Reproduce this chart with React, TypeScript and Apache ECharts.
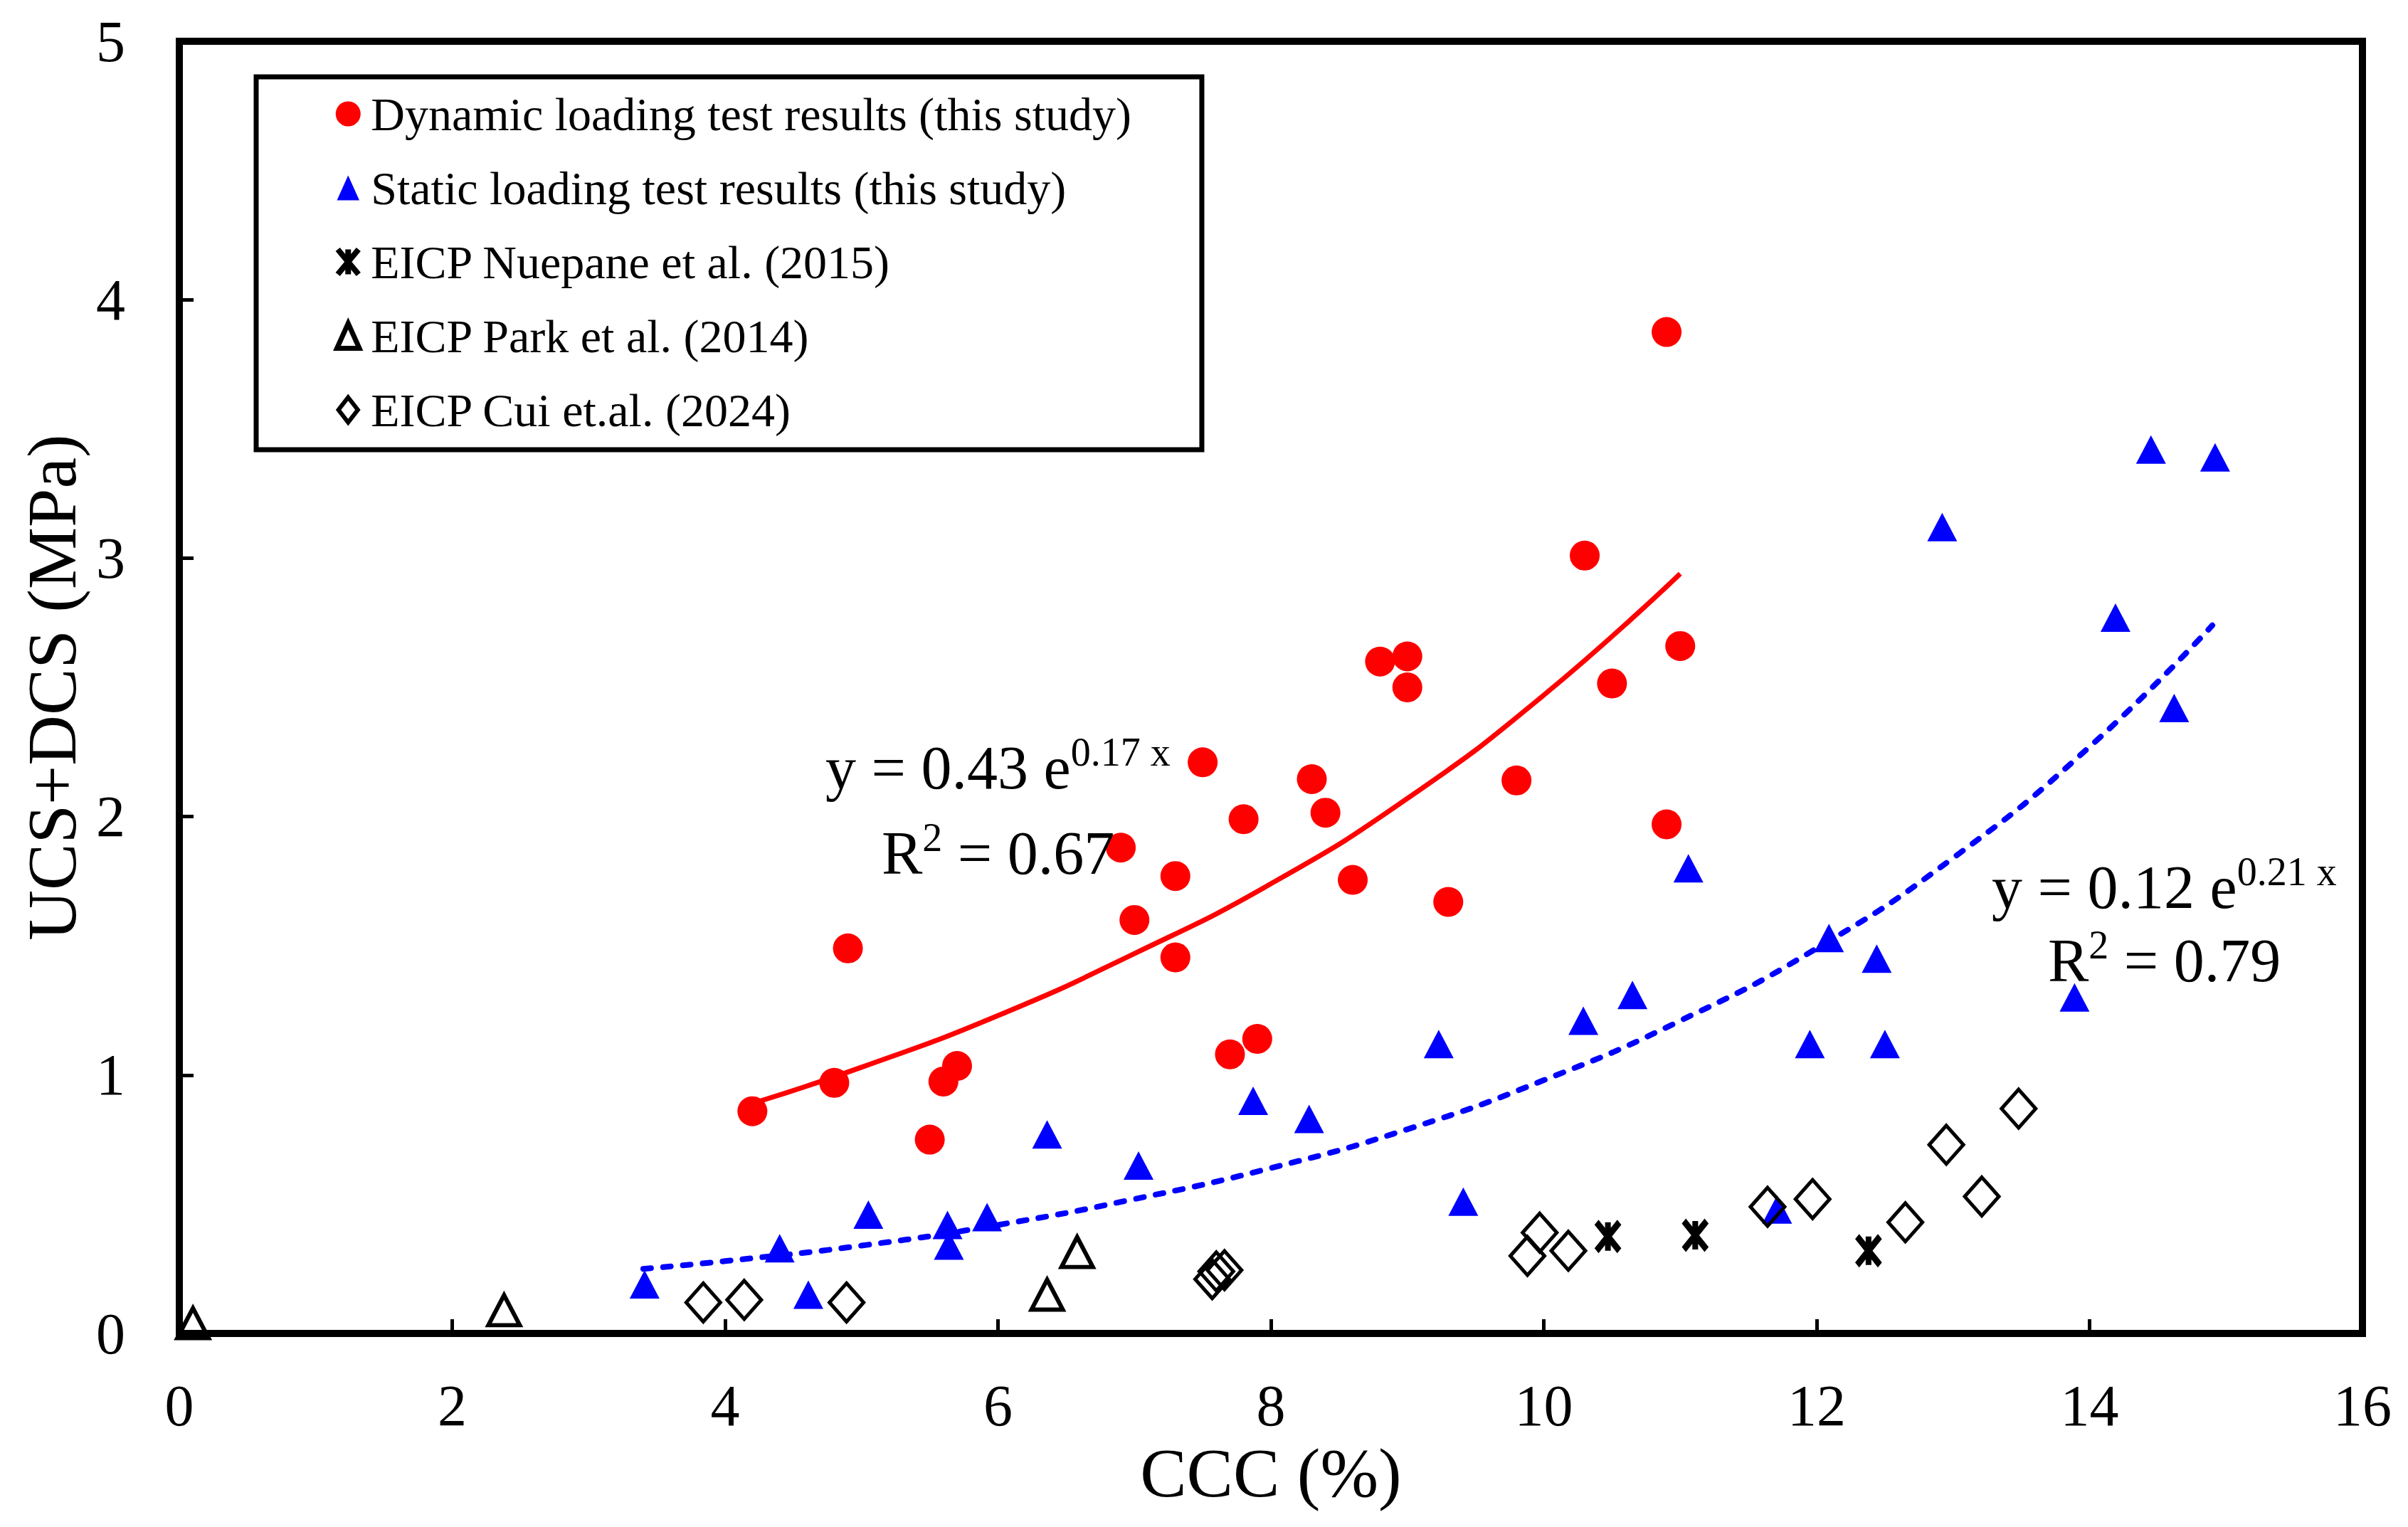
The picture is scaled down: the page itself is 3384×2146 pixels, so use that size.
import React, { useEffect, useRef } from "react";
import * as echarts from "echarts";

const FONT = "'Liberation Serif', 'Times New Roman', serif";

// Dynamic loading test results (this study)
const dynamicX = [4.2, 4.8, 4.9, 5.5, 5.6, 5.7, 6.9, 7.0, 7.3, 7.3, 7.5, 7.7, 7.8, 7.9, 8.3, 8.4, 8.6, 8.8, 9.0, 9.0, 9.3, 9.8, 10.3, 10.5, 10.9, 11.0, 10.9];
const dynamicY = [0.86, 0.97, 1.49, 0.75, 0.975, 1.035, 1.88, 1.6, 1.77, 1.455, 2.21, 1.08, 1.99, 1.14, 2.145, 2.015, 1.755, 2.6, 2.62, 2.5, 1.67, 2.14, 3.01, 2.515, 3.875, 2.66, 1.97];

// Static loading test results (this study)
const staticX = [3.41, 4.4, 4.61, 5.05, 5.63, 5.64, 5.92, 6.36, 7.03, 7.87, 8.28, 9.23, 9.41, 10.29, 10.65, 11.06, 11.71, 11.95, 12.09, 12.44, 12.5, 12.92, 13.89, 14.19, 14.45, 14.62, 14.92];
const staticY = [0.19, 0.33, 0.15, 0.46, 0.42, 0.34, 0.45, 0.77, 0.65, 0.9, 0.83, 1.12, 0.51, 1.21, 1.31, 1.8, 0.48, 1.12, 1.53, 1.45, 1.12, 3.12, 1.3, 2.77, 3.42, 2.42, 3.39];

// EICP Nuepane et al. (2015)
const nuepaneX = [10.47, 11.11, 12.38];
const nuepaneY = [0.375, 0.38, 0.32];

// EICP Park et al. (2014)
const parkX = [0.1, 2.38, 6.36, 6.58];
const parkY = [0.04, 0.09, 0.15, 0.315];

// EICP Cui et.al. (2024)
const cuiX = [3.84, 4.14, 4.89, 7.57, 7.6, 7.66, 9.88, 9.97, 10.18, 11.64, 11.97, 12.65, 12.95, 13.21, 13.48];
const cuiY = [0.12, 0.13, 0.12, 0.21, 0.24, 0.245, 0.3, 0.39, 0.32, 0.49, 0.52, 0.43, 0.73, 0.53, 0.87];

// Trendlines
const dynTrendX = [4.2, 5, 6, 7, 8, 9, 10, 11];
const dynTrendY = [0.89, 1.03, 1.23, 1.47, 1.74, 2.07, 2.47, 2.94];
const staTrendX = [3.4, 4, 5, 6, 7, 8, 9, 10, 11, 12, 13, 14, 14.9];
const staTrendY = [0.25, 0.28, 0.34, 0.42, 0.52, 0.64, 0.79, 0.98, 1.21, 1.49, 1.84, 2.27, 2.74];

const seriesNames = [
  "Dynamic loading test results (this study)",
  "Static loading test results (this study)",
  "EICP Nuepane et al. (2015)",
  "EICP Park et al. (2014)",
  "EICP Cui et.al. (2024)",
];

const xTicks = { min: 0, max: 16, interval: 2 };
const yTicks = { min: 0, max: 5, interval: 1 };

const zip = (xs: number[], ys: number[]) => xs.map((x, i) => [x, ys[i]]);

const STAR = "path://M0,0L20,24M20,0L0,24M10,0L10,24";
const TRI_ICON = "path://M9,0L18,20L0,20Z";
const DIA_ICON = "path://M7,0L14,9L7,18L0,9Z";

export default function App() {
  const ref = useRef<HTMLDivElement>(null);
  useEffect(() => {
    if (!ref.current) return;
    const chart = echarts.init(ref.current, null, { renderer: "svg" });
    const eq = (x: number, y: number, text: string) => ({
      type: "text",
      x,
      y,
      style: {
        text,
        fontFamily: FONT,
        fill: "#000",
        align: "left",
        verticalAlign: "middle",
        rich: {
          m: { fontSize: 86, fontFamily: FONT, lineHeight: 100, color: "#000" },
          s: { fontSize: 56, fontFamily: FONT, lineHeight: 58, verticalAlign: "top", color: "#000" },
        },
      },
      z: 100,
    });
    chart.setOption({
      animation: false,
      backgroundColor: "#fff",
      grid: {
        left: 252,
        right: 64,
        top: 58,
        bottom: 272,
        show: true,
        borderColor: "#000",
        borderWidth: 10,
        backgroundColor: "transparent",
      },
      xAxis: {
        type: "value",
        min: xTicks.min,
        max: xTicks.max,
        interval: xTicks.interval,
        name: "CCC (%)",
        nameLocation: "middle",
        nameGap: 132,
        nameTextStyle: { fontFamily: FONT, fontSize: 98, color: "#000" },
        axisLine: { show: true, lineStyle: { color: "#000", width: 10 } },
        axisTick: { show: true, inside: true, length: 20, lineStyle: { color: "#000", width: 5 } },
        axisLabel: { fontFamily: FONT, fontSize: 82, color: "#000", margin: 60 },
        splitLine: { show: false },
      },
      yAxis: {
        type: "value",
        min: yTicks.min,
        max: yTicks.max,
        interval: yTicks.interval,
        name: "UCS+DCS (MPa)",
        nameLocation: "middle",
        nameGap: 130,
        nameTextStyle: { fontFamily: FONT, fontSize: 98, color: "#000" },
        axisLine: { show: true, lineStyle: { color: "#000", width: 10 } },
        axisTick: { show: true, inside: true, length: 20, lineStyle: { color: "#000", width: 5 } },
        axisLabel: { fontFamily: FONT, fontSize: 82, color: "#000", margin: 76 },
        splitLine: { show: false },
      },
      legend: {
        orient: "vertical",
        left: 360,
        top: 108,
        padding: [19, 99, 23, 110],
        itemGap: 38,
        itemWidth: 54,
        itemHeight: 35,
        symbolKeepAspect: true,
        backgroundColor: "#fff",
        borderColor: "#000",
        borderWidth: 7,
        textStyle: { fontFamily: FONT, fontSize: 66, color: "#000", lineHeight: 66 },
        data: [
          { name: seriesNames[0], icon: "circle", itemStyle: { color: "#FF0000", borderWidth: 0 } },
          { name: seriesNames[1], icon: TRI_ICON, itemStyle: { color: "#0000FF", borderWidth: 0 } },
          { name: seriesNames[2], icon: STAR, itemStyle: { color: "#000", borderColor: "#000", borderWidth: 8 } },
          { name: seriesNames[3], icon: TRI_ICON, itemStyle: { color: "rgba(255,255,255,0)", borderColor: "#000", borderWidth: 7 } },
          { name: seriesNames[4], icon: DIA_ICON, itemStyle: { color: "rgba(255,255,255,0)", borderColor: "#000", borderWidth: 6 } },
        ],
      },
      series: [
        {
          name: "dynTrend",
          type: "line",
          data: zip(dynTrendX, dynTrendY),
          smooth: true,
          showSymbol: false,
          lineStyle: { color: "#FF0000", width: 7 },
          z: 1,
        },
        {
          name: "staTrend",
          type: "line",
          data: zip(staTrendX, staTrendY),
          smooth: true,
          showSymbol: false,
          lineStyle: { color: "#0000FF", width: 8, type: [11, 17], cap: "round" },
          z: 1,
        },
        {
          name: seriesNames[0],
          type: "scatter",
          data: zip(dynamicX, dynamicY),
          symbol: "circle",
          symbolSize: 42,
          itemStyle: { color: "#FF0000", opacity: 1 },
          z: 2,
        },
        {
          name: seriesNames[1],
          type: "scatter",
          data: zip(staticX, staticY),
          symbol: "triangle",
          symbolSize: [42, 40],
          itemStyle: { color: "#0000FF", opacity: 1 },
          z: 2,
        },
        {
          name: seriesNames[2],
          type: "scatter",
          data: zip(nuepaneX, nuepaneY),
          symbol: STAR,
          symbolSize: [32, 40],
          itemStyle: { color: "#000", borderColor: "#000", borderWidth: 9, opacity: 1 },
          z: 3,
        },
        {
          name: seriesNames[3],
          type: "scatter",
          data: zip(parkX, parkY),
          symbol: "triangle",
          symbolSize: [44, 42],
          itemStyle: { color: "rgba(255,255,255,0)", borderColor: "#000", borderWidth: 6, opacity: 1 },
          z: 3,
        },
        {
          name: seriesNames[4],
          type: "scatter",
          data: zip(cuiX, cuiY),
          symbol: "diamond",
          symbolSize: [48, 54],
          itemStyle: { color: "rgba(255,255,255,0)", borderColor: "#000", borderWidth: 5, opacity: 1 },
          z: 3,
        },
      ],
      graphic: [
        eq(1160, 1079, "{m|y = 0.43 e}{s|0.17 x}"),
        eq(1239, 1199, "{m|R}{s|2}{m| = 0.67}"),
        eq(2799, 1247, "{m|y = 0.12 e}{s|0.21 x}"),
        eq(2878, 1350, "{m|R}{s|2}{m| = 0.79}"),
      ],
    });
    return () => chart.dispose();
  }, []);
  return (
    <div
      ref={ref}
      style={{ position: "absolute", left: 0, top: 0, width: 3384, height: 2146, background: "#fff" }}
    />
  );
}
